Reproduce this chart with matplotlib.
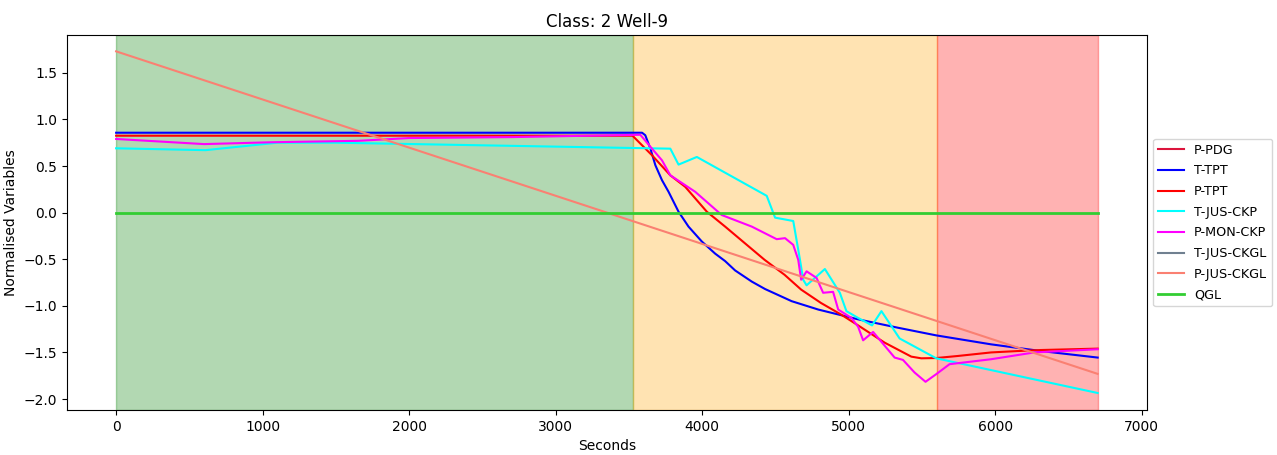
import matplotlib
matplotlib.use("Agg")
import matplotlib.pyplot as plt
import numpy as np

# phases (seconds)
normal_end = 3525
transient_end = 5600
total_end = 6700

# T-TPT
t_tpt_x = [0, 3590, 3612, 3647, 3681, 3726, 3771, 3839, 3907, 3998, 4089, 4157, 4225, 4339, 4430,
           4611, 4793, 5065, 5337, 5598, 5972, 6313, 6700]
t_tpt_y = [0.857, 0.857, 0.83, 0.686, 0.508, 0.348, 0.223, 0.01, -0.15, -0.31, -0.44, -0.52, -0.62, -0.74, -0.82,
           -0.95, -1.04, -1.145, -1.235, -1.317, -1.413, -1.485, -1.555]

# P-TPT
p_tpt_x = [0, 3525, 3658, 3783, 3885, 4032, 4157, 4293, 4426, 4562, 4676, 4812, 4948, 5065, 5246, 5428,
           5496, 5598, 5745, 5972, 6154, 6313, 6700]
p_tpt_y = [0.825, 0.825, 0.615, 0.40, 0.276, 0.01, -0.15, -0.33, -0.506, -0.666, -0.826, -0.97, -1.093, -1.21, -1.395, -1.545,
           -1.563, -1.56, -1.538, -1.50, -1.485, -1.474, -1.459]

# T-JUS-CKP
t_jus_ckp_x = [0, 610, 1100, 1500, 3783, 3839, 3964, 4441, 4498, 4622, 4668, 4690, 4713, 4838, 4940, 4985,
               5065, 5160, 5224, 5348, 5598, 6700]
t_jus_ckp_y = [0.69, 0.67, 0.75, 0.75, 0.686, 0.515, 0.597, 0.18, -0.054, -0.09, -0.506, -0.72, -0.78, -0.605, -0.86, -1.057,
               -1.13, -1.21, -1.057, -1.35, -1.563, -1.935]

# P-MON-CKP
p_mon_ckp_x = [0, 600, 1065, 1650, 2000, 2700, 3578, 3658, 3726, 3783, 3953, 4134, 4339, 4509, 4566, 4622,
               4656, 4676, 4713, 4781, 4826, 4894, 4929, 5019, 5065, 5099, 5167, 5314, 5371, 5450, 5525,
               5598, 5689, 5972, 6267, 6700]
p_mon_ckp_y = [0.79, 0.735, 0.755, 0.77, 0.80, 0.81, 0.835, 0.686, 0.561, 0.40, 0.223, -0.026, -0.15, -0.285, -0.274, -0.346,
               -0.506, -0.72, -0.63, -0.70, -0.86, -0.85, -1.04, -1.13, -1.225, -1.37, -1.28, -1.555, -1.58, -1.715, -1.815,
               -1.733, -1.626, -1.573, -1.50, -1.466]

# P-JUS-CKGL
p_jus_ckgl_x = [0, 6700]
p_jus_ckgl_y = [1.73, -1.73]

# QGL
qgl_x = [0, 6700]
qgl_y = [0.0, 0.0]

fig = plt.figure(figsize=(12.77, 4.55), dpi=100)
ax = fig.add_axes([0.0525, 0.099, 0.8455, 0.824])

ax.axvspan(0, normal_end, color="green", alpha=0.3)
ax.axvspan(normal_end, transient_end, color="orange", alpha=0.3)
ax.axvspan(transient_end, total_end, color="red", alpha=0.3)

ax.plot([], [], color="crimson", lw=1.5, label="P-PDG")
ax.plot(t_tpt_x, t_tpt_y, color="blue", lw=1.5, label="T-TPT")
ax.plot(p_tpt_x, p_tpt_y, color="red", lw=1.5, label="P-TPT")
ax.plot(t_jus_ckp_x, t_jus_ckp_y, color="cyan", lw=1.5, label="T-JUS-CKP")
ax.plot(p_mon_ckp_x, p_mon_ckp_y, color="magenta", lw=1.5, label="P-MON-CKP")
ax.plot([], [], color="slategray", lw=1.5, label="T-JUS-CKGL")
ax.plot(p_jus_ckgl_x, p_jus_ckgl_y, color="salmon", lw=1.5, label="P-JUS-CKGL")
ax.plot(qgl_x, qgl_y, color="limegreen", lw=2, label="QGL")

ax.set_xlim(-335, 7035)
ax.set_ylim(-2.117, 1.905)
ax.set_title("Class: 2 Well-9")
ax.set_xlabel("Seconds")
ax.set_ylabel("Normalised Variables")
ax.legend(loc="center left", bbox_to_anchor=(1, 0.5), fontsize=9.2, labelspacing=0.6)

fig.savefig("out.png", dpi=100)
